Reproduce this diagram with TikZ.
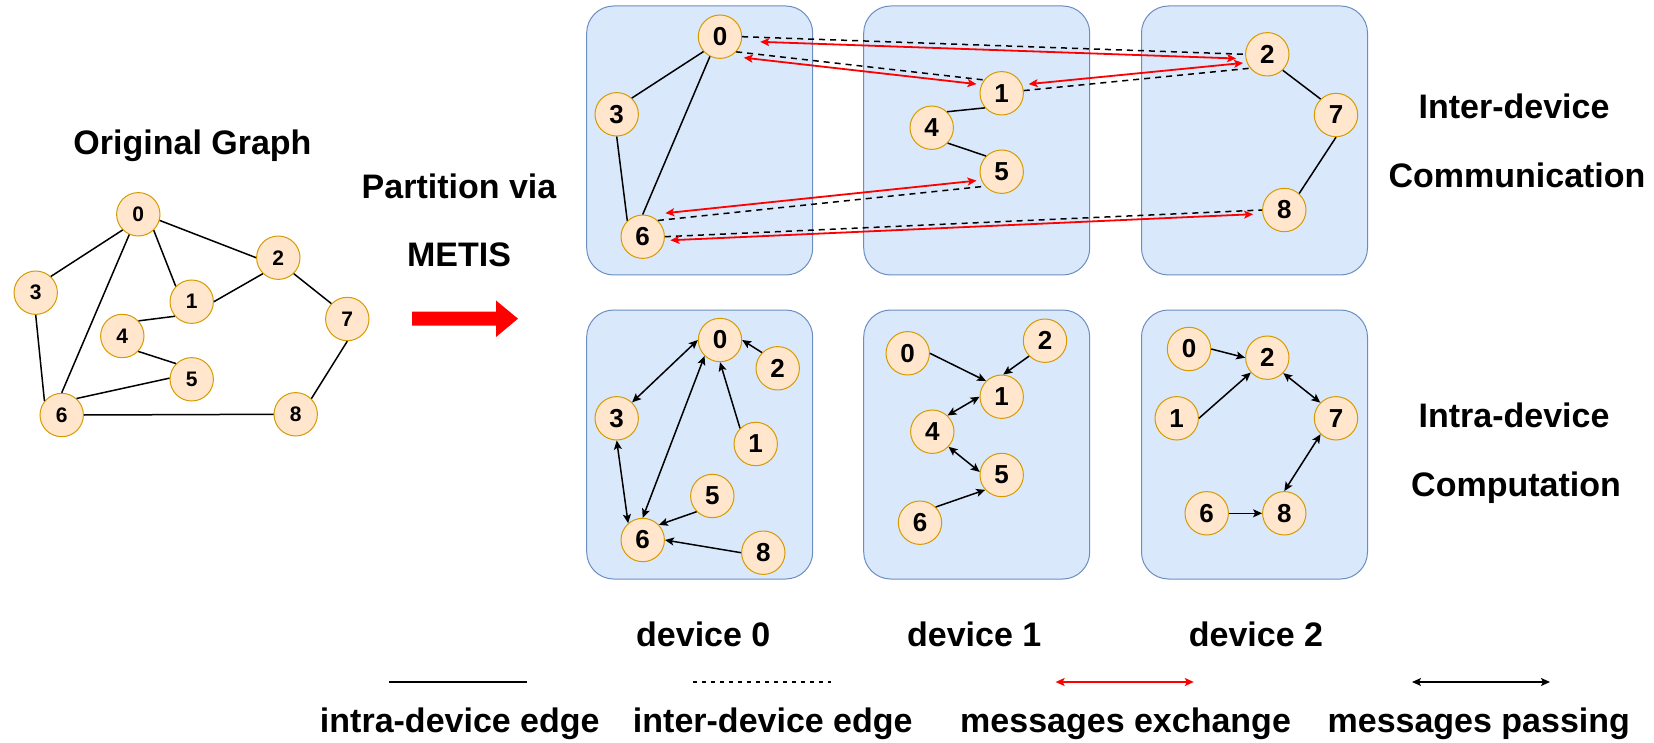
\documentclass[tikz,border=0pt]{standalone}
\usepackage{fontspec}
\setmainfont{Liberation Sans}
\usetikzlibrary{arrows.meta,calc}
\definecolor{nodefill}{HTML}{FFE6CC}
\definecolor{nodeline}{HTML}{D79B00}
\definecolor{boxfill}{HTML}{DAE8FC}
\definecolor{boxline}{HTML}{6C8EBF}
\begin{document}
\begin{tikzpicture}[x=1pt,y=-1pt,
  vtx/.style={circle, draw=nodeline, fill=nodefill, line width=1pt,
    minimum size=43.4pt, inner sep=0pt, font=\bfseries\fontsize{26}{26}\selectfont},
  ovtx/.style={vtx, font=\bfseries\fontsize{21}{21}\selectfont},
  devbox/.style={draw=boxline, fill=boxfill, rounded corners=27pt, line width=1pt,
    minimum width=226pt, minimum height=269pt, inner sep=0pt},
  edge/.style={line width=1.5pt, black},
  cutedge/.style={line width=1.5pt, black, dash pattern=on 6pt off 5pt},
  xmsg/.style={red, line width=1.8pt,
    {Stealth[length=9pt,width=8pt,inset=2pt]}-{Stealth[length=9pt,width=8pt,inset=2pt]}},
  pass/.style={line width=1.5pt, -{Stealth[length=9pt,width=8pt,inset=2pt]}},
  bipass/.style={line width=1.5pt,
    {Stealth[length=9pt,width=8pt,inset=2pt]}-{Stealth[length=9pt,width=8pt,inset=2pt]}},
  lbl/.style={font=\bfseries\fontsize{34}{40}\selectfont, anchor=base, inner sep=0pt}]
\useasboundingbox (0,0) rectangle (1654,743);

% ---------- original graph ----------
\node[lbl] (otitle) at (192.5,155) {Original Graph};
\node[ovtx] (o0) at (138.3,214.3) {0};
\node[ovtx] (o3) at (35.7,292.7) {3};
\node[ovtx] (o2) at (278.3,257.7) {2};
\node[ovtx] (o1) at (191.7,301.7) {1};
\node[ovtx] (o4) at (122.3,336) {4};
\node[ovtx] (o7) at (347.3,319) {7};
\node[ovtx] (o5) at (191.7,379.3) {5};
\node[ovtx] (o6) at (61.7,415) {6};
\node[ovtx] (o8) at (295.7,414.3) {8};
\draw[edge] (o0.225) -- (o3.47);
\draw[edge] (o0.246) -- (o6.north);
\draw[edge] (o0.-46) -- (o1.136);
\draw[edge] (o0.-16) -- (o2.west);
\draw[edge] (o2.226) -- (o1.east);
\draw[edge] (o2.-46) -- (o7.136);
\draw[edge] (o1.221) -- (o4.43);
\draw[edge] (o4.-44) -- (o5.135);
\draw[edge] (o5.177) -- (o6.48);
\draw[edge] (o3.south) -- (o6.141);
\draw[edge] (o6.east) -- (o8.west);
\draw[edge] (o7.south) -- (o8.45);

% ---------- partition step ----------
\node[lbl] (ptitle) at (459,199) {Partition via};
\node[lbl] (metis) at (459,267) {METIS};
\fill[red] (412,311.7) -- (496,311.7) -- (496,300.5) -- (518,318.7)
  -- (496,337) -- (496,325.7) -- (412,325.7) -- cycle;

% ---------- device boxes ----------
\node[devbox] (dt0) at (699.7,140.5) {};
\node[devbox] (dt1) at (976.7,140.5) {};
\node[devbox] (dt2) at (1254.5,140.5) {};
\node[devbox] (db0) at (699.7,444.5) {};
\node[devbox] (db1) at (976.7,444.5) {};
\node[devbox] (db2) at (1254.5,444.5) {};

% ---------- inter-device communication ----------
\node[vtx] (t0) at (720,36.7) {0};
\node[vtx] (t3) at (616.7,114.3) {3};
\node[vtx] (t6) at (642.7,236.7) {6};
\node[vtx] (t1) at (1001.7,93.3) {1};
\node[vtx] (t4) at (931.7,127.7) {4};
\node[vtx] (t5) at (1001.7,171.7) {5};
\node[vtx] (t2) at (1267.3,54.3) {2};
\node[vtx] (t7) at (1336,115) {7};
\node[vtx] (t8) at (1284.3,210) {8};
\draw[edge] (t0.222) -- (t3.47);
\draw[edge] (t0.243) -- (t6.north);
\draw[edge] (t3.south) -- (t6.134);
\draw[edge] (t1.221) -- (t4.46);
\draw[edge] (t4.-44) -- (t5.135);
\draw[edge] (t2.-46) -- (t7.134);
\draw[edge] (t7.south) -- (t8.48);
\draw[cutedge] (t0.east) -- (t2.west);
\draw[cutedge] (t0.-43) -- (t1.143);
\draw[cutedge] (t1.7) -- (t2.219);
\draw[cutedge] (t6.47) -- (t5.221);
\draw[cutedge] (t6.east) -- (t8.west);
\draw[xmsg, shorten <=18pt, shorten >=9pt] ([yshift=-4.5pt]t0.east) -- ([yshift=-4.5pt]t2.west);
\draw[xmsg, shorten <=7.5pt, shorten >=7.5pt] ([yshift=-5pt]t0.-43) -- ([yshift=-5pt]t1.143);
\draw[xmsg, shorten <=5pt, shorten >=7pt] ([yshift=6pt]t1.7) -- ([yshift=6pt]t2.219);
\draw[xmsg, shorten <=7.5pt, shorten >=8.5pt] ([yshift=6.5pt]t6.47) -- ([yshift=6.5pt]t5.221);
\draw[xmsg, shorten <=5.5pt, shorten >=9pt] ([yshift=-3.8pt]t6.east) -- ([yshift=-3.8pt]t8.west);

\node[lbl] (inter1) at (1514,119) {Inter-device};
\node[lbl] (inter2) at (1517,188) {Communication};

% ---------- intra-device computation ----------
% device 0
\node[vtx] (a0) at (720,340) {0};
\node[vtx] (a2) at (777.7,368.3) {2};
\node[vtx] (a3) at (616.7,418.3) {3};
\node[vtx] (a1) at (755.7,444) {1};
\node[vtx] (a5) at (712.3,496) {5};
\node[vtx] (a6) at (642.7,540) {6};
\node[vtx] (a8) at (763.3,552.7) {8};
\draw[pass] (a2.135) -- (a0.east);
\draw[pass] (a1.135) -- (a0.south);
\draw[bipass] (a0.west) -- (a3.46);
\draw[bipass] (a0.226) -- (a6.north);
\draw[bipass] (a3.south) -- (a6.131);
\draw[pass] (a5.225) -- (a6.43);
\draw[pass] (a8.west) -- (a6.east);
% device 1
\node[vtx] (b0) at (907.7,353.3) {0};
\node[vtx] (b2) at (1045,340.7) {2};
\node[vtx] (b1) at (1001.7,396.7) {1};
\node[vtx] (b4) at (932.3,431.7) {4};
\node[vtx] (b5) at (1001.7,475) {5};
\node[vtx] (b6) at (920,522.7) {6};
\draw[pass] (b0.east) -- (b1.135);
\draw[pass] (b2.224) -- (b1.86);
\draw[bipass] (b4.47) -- (b1.west);
\draw[bipass] (b4.-43) -- (b5.172);
\draw[pass] (b6.45) -- (b5.222);
% device 2
\node[vtx] (c0) at (1189,349) {0};
\node[vtx] (c2) at (1267.3,357.7) {2};
\node[vtx] (c1) at (1176.7,418.3) {1};
\node[vtx] (c7) at (1336,418.3) {7};
\node[vtx] (c6) at (1206.7,513.3) {6};
\node[vtx] (c8) at (1284.3,513.3) {8};
\draw[pass] (c0.east) -- (c2.west);
\draw[pass] (c1.east) -- (c2.222);
\draw[bipass] (c2.-44) -- (c7.135);
\draw[bipass] (c7.226) -- (c8.north);
\draw[pass] (c6.east) -- (c8.west);

\node[lbl] (intra1) at (1514,427) {Intra-device};
\node[lbl] (intra2) at (1516,496) {Computation};

% ---------- device names ----------
\node[lbl] (dn0) at (703.3,646) {device 0};
\node[lbl] (dn1) at (974.2,646) {device 1};
\node[lbl] (dn2) at (1256,646) {device 2};

% ---------- legend ----------
\coordinate (la1) at (389,682);  \coordinate (la2) at (527,682);
\coordinate (lb1) at (693,682);  \coordinate (lb2) at (831,682);
\coordinate (lc1) at (1055.6,682); \coordinate (lc2) at (1193.8,682);
\coordinate (ld1) at (1412,682); \coordinate (ld2) at (1550,682);
\draw[edge, line width=1.8pt] (la1) -- (la2);
\draw[cutedge, line width=1.3pt, dash pattern=on 4pt off 5pt] (lb1) -- (lb2);
\draw[xmsg, line width=1.5pt] (lc1) -- (lc2);
\draw[bipass] (ld1) -- (ld2);
\node[lbl] (lt1) at (459.8,732) {intra-device edge};
\node[lbl] (lt2) at (772.8,732) {inter-device edge};
\node[lbl] (lt3) at (1125.6,732) {messages exchange};
\node[lbl] (lt4) at (1478.8,732) {messages passing};
\end{tikzpicture}
\end{document}
